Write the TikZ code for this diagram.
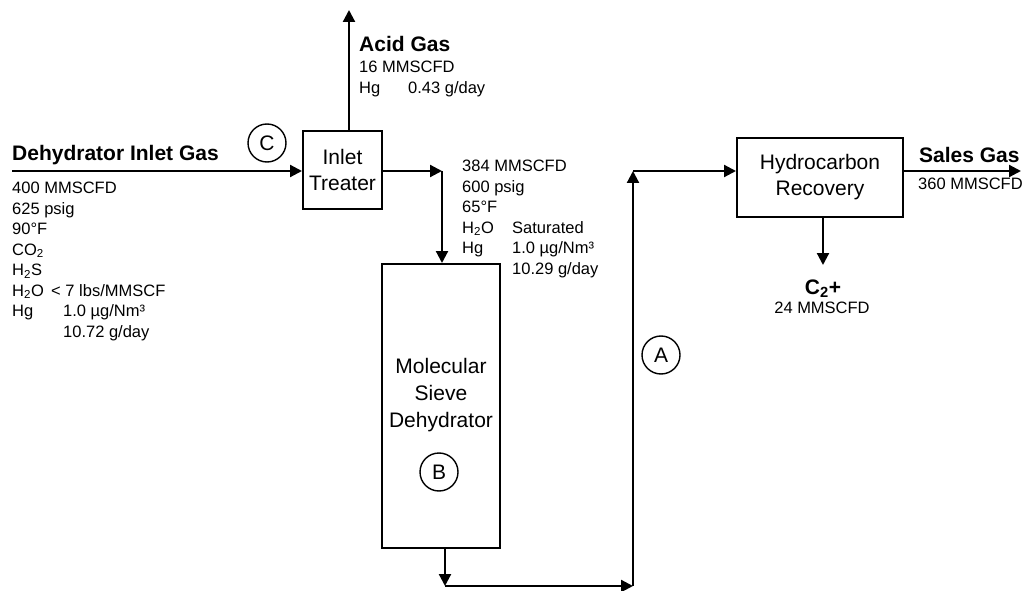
\documentclass[tikz,border=0pt]{standalone}
\usepackage{fontspec}
\setmainfont{Liberation Sans}
\usetikzlibrary{arrows.meta,positioning,calc}
\tikzset{
unit/.style={draw,line width=2pt,inner sep=0pt,align=center,font=\fontsize{21}{26}\selectfont},
tag/.style={draw,circle,line width=1.4pt,minimum size=38pt,inner sep=0pt,font=\fontsize{21}{24}\selectfont},
flow/.style={-{Triangle[length=12pt,width=12pt]},line width=2.2pt},
info/.style={align=left,inner sep=0pt,anchor=north west,font=\fontsize{16.5}{20.5}\selectfont},
head/.style={inner sep=0pt,font=\bfseries\fontsize{21}{24}\selectfont}
}
\begin{document}
\begin{tikzpicture}[x=1pt,y=-1pt]
\useasboundingbox (0,0) rectangle (1029,591);
% process units
\node[unit,minimum width=79pt,minimum height=78pt] (treater) at (342.5,170) {Inlet\\Treater};
\node[unit,minimum width=118pt,minimum height=284pt] (sieve) at (441,406) {};
\node[align=center,inner sep=0pt,font=\fontsize{21}{27}\selectfont] (sievetxt) at (441,395) {Molecular\\Sieve\\Dehydrator};
\node[unit,minimum width=166pt,minimum height=79pt] (hcr) at (820,177.5) {Hydrocarbon\\Recovery};
% sample points
\node[tag] (tagC) at (267,143) {C};
\node[tag] (tagB) at (439,472) {B};
\node[tag] (tagA) at (661,355) {A};
% stream ends and corners
\coordinate (inlet) at (12,171);
\coordinate (acid) at (349,10);
\coordinate (tout) at (442,171);
\coordinate (sout) at (445,586);
\coordinate (riser) at (633,586);
\coordinate (rtop) at (633,171);
\coordinate (sales) at (1021,171);
\coordinate (ngl) at (823,265);
% streams
\draw[flow] (inlet) -- (inlet -| treater.west);
\draw[flow] (acid |- treater.north) -- (acid);
\draw[flow] (treater.east |- tout) -- (tout);
\draw[flow] (tout) -- (tout |- sieve.north);
\draw[flow] (sieve.south -| sout) -- (sout);
\draw[flow] (sout) -- (riser);
\draw[flow] (riser) -- (rtop);
\draw[flow] (rtop) -- (rtop -| hcr.west);
\draw[flow] (hcr.east |- sales) -- (sales);
\draw[flow] (hcr.south -| ngl) -- (ngl);
% stream data
\node[head,anchor=base west] (inhead) at (12,160.5) {Dehydrator Inlet Gas};
\node[info] (indata) at (12,182) {400 MMSCFD\\625 psig\\90°F\\CO\textsubscript{2}\\H\textsubscript{2}S\\\makebox[39pt][l]{H\textsubscript{2}O}< 7 lbs/MMSCF\\\makebox[51pt][l]{Hg}1.0 µg/Nm³\\\hspace*{51pt}10.72 g/day};
\node[head,anchor=base west] (acidhead) at (359,51.5) {Acid Gas};
\node[info] (aciddata) at (359,61) {16 MMSCFD\\\makebox[49pt][l]{Hg}0.43 g/day};
\node[info] (tdata) at (462,160) {384 MMSCFD\\600 psig\\65°F\\\makebox[50pt][l]{H\textsubscript{2}O}Saturated\\\makebox[50pt][l]{Hg}1.0 µg/Nm³\\\hspace*{50pt}10.29 g/day};
\node[head,anchor=base west] (saleshead) at (919,162.5) {Sales Gas};
\node[info] (salesdata) at (918,178) {360 MMSCFD};
\node[head,anchor=base] (nglhead) at (823,294.5) {C\textsubscript{2}+};
\node[info,anchor=north] (ngldata) at (822,302) {24 MMSCFD};
\end{tikzpicture}
\end{document}
